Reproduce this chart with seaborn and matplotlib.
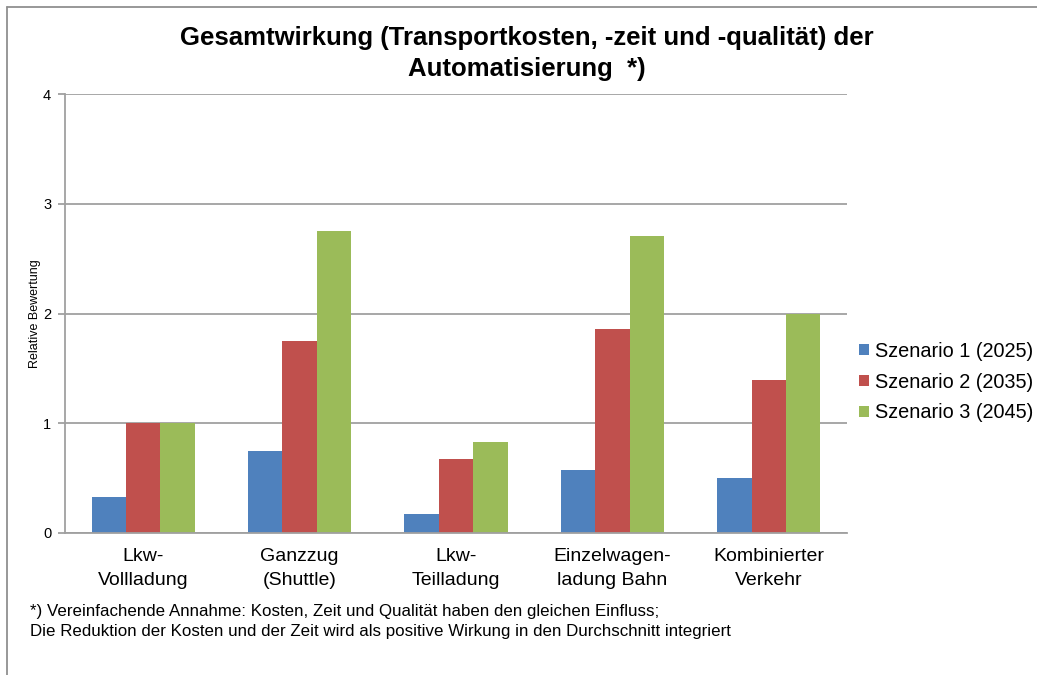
import numpy as np
import pandas as pd
import seaborn as sns
from matplotlib import pyplot as plt
from matplotlib.lines import Line2D
from matplotlib.patches import Patch

categories = ["Lkw-\nVollladung", "Ganzzug\n(Shuttle)", "Lkw-\nTeilladung",
              "Einzelwagen-\nladung Bahn", "Kombinierter\nVerkehr"]
series_names = ["Szenario 1 (2025)", "Szenario 2 (2035)", "Szenario 3 (2045)"]
szenario_1 = [0.33, 0.75, 0.17, 0.57, 0.50]
szenario_2 = [1.00, 1.75, 0.67, 1.86, 1.39]
szenario_3 = [1.00, 2.75, 0.83, 2.71, 2.00]
colors = ["#4F81BD", "#C0504D", "#9BBB59"]

title = "Gesamtwirkung (Transportkosten, -zeit und -qualität) der\nAutomatisierung  *)"
footnote = ("*) Vereinfachende Annahme: Kosten, Zeit und Qualität haben den gleichen Einfluss;\n"
            "Die Reduktion der Kosten und der Zeit wird als positive Wirkung in den Durchschnitt integriert")

df = pd.DataFrame({
    "Kategorie": categories * 3,
    "Szenario": np.repeat(series_names, len(categories)),
    "Wert": szenario_1 + szenario_2 + szenario_3,
})

sns.set_style("white")
plt.rcParams["font.family"] = ["Liberation Sans", "DejaVu Sans"]
plt.rcParams["text.color"] = "black"
plt.rcParams["xtick.color"] = "black"
plt.rcParams["ytick.color"] = "black"
plt.rcParams["axes.labelcolor"] = "black"

fig = plt.figure(figsize=(10.37, 6.75), dpi=100)
ax = fig.add_axes([0.0627, 0.2104, 0.7541, 0.6503])

sns.barplot(data=df, x="Kategorie", y="Wert", hue="Szenario", palette=colors,
            width=0.66, gap=0, saturation=1, ax=ax, legend=False, edgecolor="none")

ax.set_ylim(0, 4)
ax.set_xlim(-0.5, len(categories) - 0.5)
ax.set_yticks([0, 1, 2, 3, 4])
ax.yaxis.grid(True, color="#A0A0A0", linewidth=1.3)
ax.set_axisbelow(True)
for s in ["top", "right"]:
    ax.spines[s].set_visible(False)
for s in ["left", "bottom"]:
    ax.spines[s].set_color("#A0A0A0")
    ax.spines[s].set_linewidth(1.3)

ax.set_xticks(range(len(categories)))
ax.set_xticklabels(categories, fontsize=14, linespacing=1.55)
ax.set_xticks(np.arange(-0.5, len(categories)), minor=True)
ax.tick_params(axis="x", which="major", length=0, pad=11)
ax.tick_params(axis="x", which="minor", length=6, color="#A0A0A0", width=1.3, direction="out")
ax.tick_params(axis="y", length=5, color="#A0A0A0", width=1.3, direction="out",
               labelsize=10.5, pad=5)
ax.tick_params(axis="y", which="major", left=True)
ax.set_xlabel("")
ax.set_ylabel("Relative Bewertung", fontsize=9, labelpad=1.5)

fig.suptitle(title, fontsize=18.5, fontweight="bold", x=0.508, y=0.962, linespacing=1.4)

handles = [Patch(facecolor=c, edgecolor="none") for c in colors]
fig.legend(handles, series_names, loc="center left", bbox_to_anchor=(0.821, 0.434),
           frameon=False, fontsize=14.3, handlelength=0.5, handleheight=0.5,
           handletextpad=0.3, labelspacing=0.6, borderaxespad=0)

fig.text(0.029, 0.053, footnote, fontsize=12.2, ha="left", va="bottom", linespacing=1.45)

# chart frame (partially cropped on the right and bottom)
fig.add_artist(Line2D([0.0068, 1.0], [0.9896, 0.9896], transform=fig.transFigure,
                      color="#909090", linewidth=1.3))
fig.add_artist(Line2D([0.0068, 0.0068], [0.0, 0.9896], transform=fig.transFigure,
                      color="#909090", linewidth=1.3))

fig.savefig("out.png", dpi=100, facecolor="white")
